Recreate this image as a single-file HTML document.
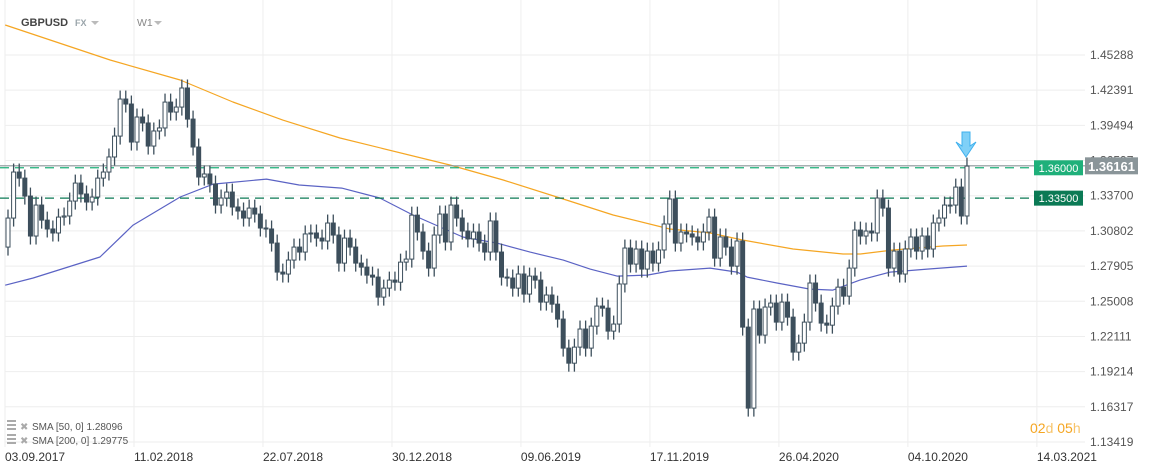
<!DOCTYPE html>
<html><head><meta charset="utf-8"><style>
html,body{margin:0;padding:0;background:#fff;}
svg{display:block;font-family:"Liberation Sans",sans-serif;}
</style></head><body>
<svg id="chart" width="1151" height="472" viewBox="0 0 1151 472" xmlns="http://www.w3.org/2000/svg">
<g id="grid"></g>
<g id="yaxis"></g>
<g id="xaxis"></g>
<g id="sma"></g>
<g id="levels"></g>
<g id="candles"></g>
<g id="overlay">
  <text x="21" y="26" font-size="11" font-weight="bold" fill="#444">GBPUSD</text>
  <text x="75" y="26" font-size="9" font-weight="bold" fill="#9aa4aa">FX</text>
  <path d="M91 21 L99 21 L95 25 Z" fill="#bbb"/>
  <text x="137" y="26" font-size="10.5" fill="#888">W1</text>
  <path d="M154 21 L162 21 L158 25 Z" fill="#bbb"/>
  <g>
    <rect x="7" y="420" width="9" height="2" fill="#aaa"/><rect x="7" y="424" width="9" height="2" fill="#aaa"/><rect x="7" y="428" width="9" height="2" fill="#aaa"/>
    <text x="20" y="430" font-size="10" fill="#aaa">✖</text>
    <text x="32" y="430" font-size="10" fill="#555">SMA [50,  0] 1.28096</text>
  </g>
  <g>
    <rect x="7" y="434" width="9" height="2" fill="#aaa"/><rect x="7" y="438" width="9" height="2" fill="#aaa"/><rect x="7" y="442" width="9" height="2" fill="#aaa"/>
    <text x="20" y="444" font-size="10" fill="#aaa">✖</text>
    <text x="32" y="444" font-size="10" fill="#555">SMA [200,  0] 1.29775</text>
  </g>
  <text x="1030" y="433" font-size="14" fill="#f5a623">02<tspan fill="#f7c46b">d</tspan> 05<tspan fill="#f7c46b">h</tspan></text>
  <path d="M962 132 L970 132 L970 146 L976 142 L966 157 L956 142 L962 146 Z" fill="#7fd0f7" stroke="#3fb0ee" stroke-width="1"/>
</g>
</svg>
<script>
const closes = [1.3186,1.3565,1.3515,1.3367,1.3038,1.3293,1.3169,1.3096,1.3063,1.3194,1.3203,1.3326,1.3474,1.3384,1.3318,1.3359,1.3515,1.3565,1.3689,1.3861,1.4166,1.4125,1.3812,1.4018,1.3969,1.3779,1.3903,1.3928,1.4141,1.4059,1.4100,1.4257,1.4001,1.3771,1.3524,1.3549,1.3466,1.3293,1.3351,1.3400,1.3277,1.3244,1.3186,1.3268,1.3219,1.3104,1.3096,1.2980,1.2741,1.2725,1.2840,1.2947,1.2906,1.3055,1.3063,1.3021,1.2997,1.3145,1.3046,1.2815,1.3021,1.2947,1.2815,1.2782,1.2716,1.2700,1.2535,1.2609,1.2675,1.2658,1.2823,1.2848,1.3210,1.3071,1.2914,1.2774,1.3046,1.3219,1.2989,1.3293,1.3186,1.3079,1.3014,1.3071,1.2980,1.2906,1.3162,1.2906,1.2700,1.2692,1.2609,1.2725,1.2560,1.2708,1.2675,1.2494,1.2552,1.2477,1.2354,1.2115,1.1991,1.2123,1.2272,1.2115,1.2296,1.2461,1.2444,1.2255,1.2313,1.2643,1.2939,1.2807,1.2931,1.2766,1.2914,1.2815,1.2923,1.3137,1.3343,1.2980,1.3071,1.3055,1.3030,1.2989,1.3071,1.3194,1.2856,1.3030,1.2947,1.2790,1.2997,1.2288,1.1621,1.2437,1.2222,1.2453,1.2486,1.2329,1.2494,1.2370,1.2082,1.2156,1.2329,1.2651,1.2486,1.2321,1.2304,1.2461,1.2617,1.2543,1.2774,1.3087,1.3038,1.3079,1.3063,1.3351,1.3268,1.2774,1.2914,1.2725,1.2931,1.3030,1.2914,1.3038,1.2931,1.3145,1.3186,1.3293,1.3293,1.3441,1.3203,1.3614];
const firstOpen = 1.2947;
const sma50Weeks = [-0.5,4.5,16.4,22.3,30.7,36.6,46.1,51.9,59.5,66.3,72.2,81.1,87.2,93.1,99,103.8,108.6,114,118,125.2,130,131.8,137.1,143,147.1,151.9,157.3,163.9,171];
const sma50Values = [1.2633,1.2692,1.2865,1.3128,1.3359,1.3466,1.3507,1.3458,1.3433,1.3351,1.3211,1.3030,1.2980,1.2906,1.2840,1.2766,1.2708,1.2716,1.2750,1.2774,1.2741,1.2700,1.2651,1.2601,1.2593,1.2675,1.2741,1.2766,1.2790];
const sma200Weeks = [-0.5,18.2,30.7,40.1,49.0,59.2,78.8,88.3,99,107.9,118,125.2,131,140,148.9,152,157.8,166.7,171];
const sma200Values = [1.4776,1.4488,1.4323,1.4142,1.3993,1.3845,1.3623,1.3499,1.3343,1.3211,1.3096,1.3063,1.3005,1.2931,1.2890,1.2890,1.2923,1.2956,1.2964];
const yTicks = [1.45288,1.42391,1.39494,1.36597,1.33700,1.30802,1.27905,1.25008,1.22111,1.19214,1.16317,1.13419];
const dateLabels = ["03.09.2017","11.02.2018","22.07.2018","30.12.2018","09.06.2019","17.11.2019","26.04.2020","04.10.2020","14.03.2021"];
const levelLines = [1.36000,1.33500];
const lastPrice = 1.36161;

const NS="http://www.w3.org/2000/svg";
const PX0=8, PXW=5.608, Y0=55, PMAX=1.45288, PSC=1214.3, RIGHT=1085;
const xs=i=>PX0+i*PXW;
const ys=p=>Y0+(PMAX-p)*PSC;
function mk(tag,attrs,parent){const e=document.createElementNS(NS,tag);for(const k in attrs)e.setAttribute(k,attrs[k]);parent.appendChild(e);return e;}
const grid=document.getElementById('grid'),yax=document.getElementById('yaxis'),xax=document.getElementById('xaxis');
yTicks.forEach(t=>{
  const y=ys(t);
  const l=mk('line',{x1:5,x2:RIGHT,y1:y,y2:y,stroke:'#eeeeee','stroke-width':1},grid);
  
  
  const tx=mk('text',{x:1090,y:y+4,'font-size':12,fill:'#555'},yax);
  
  
  tx.textContent=t.toFixed(5);
});
dateLabels.forEach((d,k)=>{
  const x=xs(k*23)-3;
  const l=mk('line',{x1:x,x2:x,y1:0,y2:447,stroke:'#eeeeee','stroke-width':1},grid);
  
  
  const tx=mk('text',{x:x,y:461,'font-size':12,fill:'#333'},xax);
  
  
  tx.textContent=d;
});
const sma=document.getElementById('sma');
function line(wk,vals,color,name){
  const pts=wk.map((w,i)=>xs(w).toFixed(1)+','+ys(vals[i]).toFixed(1)).join(' ');
  const p=mk('polyline',{points:pts,fill:'none',stroke:color,'stroke-width':1.2,'stroke-linejoin':'round'},sma);
  
  
}
line(sma200Weeks,sma200Values,'#f5a623','sma200-line');
line(sma50Weeks,sma50Values,'#5b63c4','sma50-line');
const lv=document.getElementById('levels');
const ly=ys(lastPrice);
const gl=mk('line',{x1:0,x2:RIGHT,y1:ly,y2:ly,stroke:'#8a9599','stroke-width':1.2},lv);


const lvColors=['#1fb07a','#0b7a55'];
levelLines.forEach((p,i)=>{
  const y=ys(p);
  const l=mk('line',{x1:0,x2:1034,y1:y,y2:y,stroke:lvColors[i],'stroke-width':1.2,'stroke-dasharray':'9,6'},lv);
  
  
  const r=mk('rect',{x:1034,y:y-7.5,width:49,height:15,fill:lvColors[i]},lv);
  
  
  const t=mk('text',{x:1058.5,y:y+4,'font-size':11,fill:'#fff','text-anchor':'middle'},lv);
  
  
  t.textContent=p.toFixed(5);
});
const lr=mk('rect',{x:1085,y:ly-8.5,width:53,height:17,fill:'#8a9599'},lv);


const lt=mk('text',{x:1111.5,y:ly+5,'font-size':13,'font-weight':'bold',fill:'#fff','text-anchor':'middle'},lv);


lt.textContent=lastPrice.toFixed(5);
const cg=document.getElementById('candles');
const WICK=0.007;
closes.forEach((c,i)=>{
  const o=i===0?firstOpen:closes[i-1];
  const up=c>=o;
  const x=xs(i);
  const hi=Math.max(o,c)+WICK, lo=Math.min(o,c)-WICK;
  const g=mk('g',{},cg);
  
  
  mk('line',{x1:x,x2:x,y1:ys(hi),y2:ys(lo),stroke:'#3d4f5c','stroke-width':1.3},g);
  const top=ys(Math.max(o,c)),bot=ys(Math.min(o,c));
  mk('rect',{x:x-2,y:top,width:4,height:Math.max(1,bot-top),fill:up?'#fff':'#3d4f5c',stroke:'#3d4f5c','stroke-width':1},g);
});
</script>
</body></html>
